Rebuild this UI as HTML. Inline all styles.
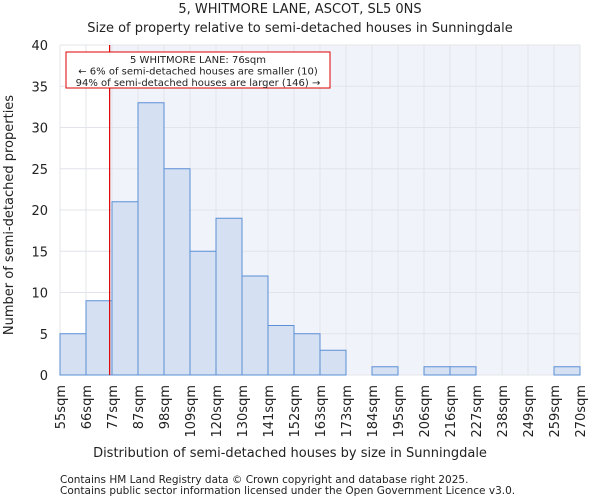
<!DOCTYPE html>
<html><head><meta charset="utf-8"><style>
body{margin:0;background:#fff;font-family:"DejaVu Sans","Liberation Sans",sans-serif;}
svg text{font-family:"DejaVu Sans","Liberation Sans",sans-serif;fill:#222;}
</style></head><body>
<svg id="chart" width="600" height="500" xmlns="http://www.w3.org/2000/svg">
<text x="300" y="13" font-size="13" text-anchor="middle">5, WHITMORE LANE, ASCOT, SL5 0NS</text>
<text x="300" y="32" font-size="13" text-anchor="middle">Size of property relative to semi-detached houses in Sunningdale</text>
<g id="plot"></g>
<text x="290" y="457" font-size="13" text-anchor="middle">Distribution of semi-detached houses by size in Sunningdale</text>
<text transform="translate(13,215) rotate(-90)" font-size="13" text-anchor="middle">Number of semi-detached properties</text>
<text x="60" y="483" font-size="10.5">Contains HM Land Registry data © Crown copyright and database right 2025.</text>
<text x="60" y="494" font-size="10.5">Contains public sector information licensed under the Open Government Licence v3.0.</text>
</svg>
<script>
const binLabels=["55sqm","66sqm","77sqm","87sqm","98sqm","109sqm","120sqm","130sqm","141sqm","152sqm","163sqm","173sqm","184sqm","195sqm","206sqm","216sqm","227sqm","238sqm","249sqm","259sqm","270sqm"];
const binEdges=[55,66,77,87,98,109,120,130,141,152,163,173,184,195,206,216,227,238,249,259,270];
const counts=[5,9,21,33,25,15,19,12,6,5,3,0,1,0,1,1,0,0,0,1];
const yTicks=[0,5,10,15,20,25,30,35,40];
const markerValue=76;
const annotationLines=["5 WHITMORE LANE: 76sqm","← 6% of semi-detached houses are smaller (10)","94% of semi-detached houses are larger (146) →"];

const X0=60,X1=580,Y0=375,Y1=45,YMAX=40;
const bw=(X1-X0)/counts.length;
const xi=i=>X0+i*bw;
function xv(v){for(let i=0;i<binEdges.length-1;i++){if(v<=binEdges[i+1])return xi(i)+bw*(v-binEdges[i])/(binEdges[i+1]-binEdges[i]);}return X1;}
const y=v=>Y0-(Y0-Y1)*v/YMAX;
const NS="http://www.w3.org/2000/svg";
const g=document.getElementById('plot');
function mk(t,a){const e=document.createElementNS(NS,t);for(const k in a)e.setAttribute(k,a[k]);g.appendChild(e);return e;}
const mx=xv(markerValue);
let e=mk('rect',{x:X0,y:Y1,width:X1-X0,height:Y0-Y1,fill:'#f1f3fb'});


e=mk('rect',{x:X0,y:Y1,width:mx-X0,height:Y0-Y1,fill:'#ffffff'});


yTicks.forEach(t=>{
 e=mk('line',{x1:X0,x2:X1,y1:y(t),y2:y(t),stroke:'#e2e4ea','stroke-width':1});
 
 
 e=mk('text',{x:X0-12,y:y(t)+5,'font-size':13,'text-anchor':'end'});e.textContent=t;
 
 
});
binLabels.forEach((l,i)=>{
 const x=xi(i);
 e=mk('line',{x1:x,x2:x,y1:Y1,y2:Y0,stroke:'#e2e4ea','stroke-width':1});
 
 
 e=mk('text',{transform:`translate(${x+5},${Y0+10}) rotate(-90)`,'font-size':13,'text-anchor':'end'});e.textContent=l;
 
 
});
counts.forEach((c,i)=>{
 if(c<=0)return;
 e=mk('rect',{x:xi(i),y:y(c),width:bw,height:Y0-y(c),fill:'#d6e0f3',stroke:'#5b8fd6','stroke-width':1});
 
 
});
e=mk('line',{x1:mx,x2:mx,y1:Y1,y2:Y0,stroke:'#dd0000','stroke-width':1.2});


e=mk('rect',{x:66,y:52,width:264,height:36,fill:'#fff',stroke:'#dd0000','stroke-width':1});


annotationLines.forEach((t,i)=>{
 e=mk('text',{x:198,y:63+i*11.5,'font-size':10,'text-anchor':'middle'});e.textContent=t;
 
 
});
</script>
</body></html>
